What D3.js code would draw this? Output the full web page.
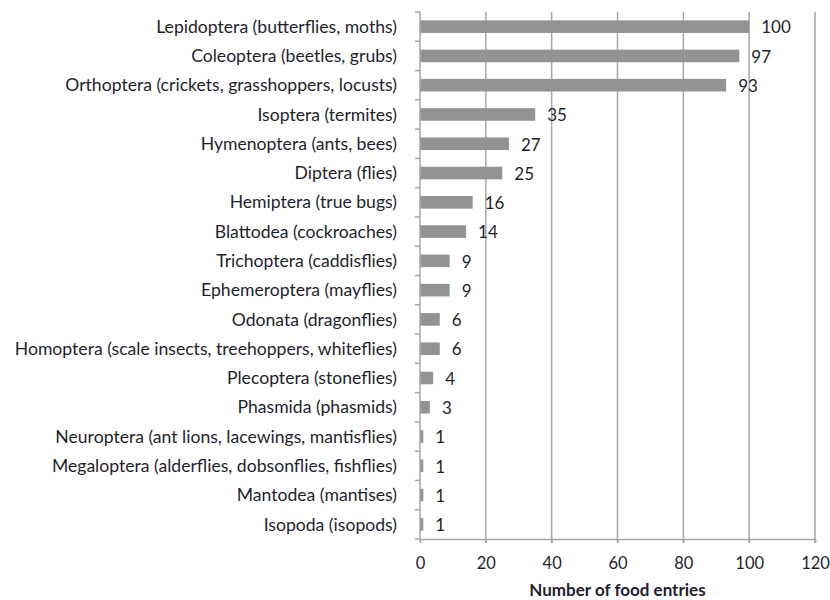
<!DOCTYPE html>
<html>
<head>
  <meta charset="utf-8">
  <title>insect food entries</title>
  <script src="https://cdn.jsdelivr.net/npm/d3@7"></script>
  <style>
    body { margin: 0; background: #fff; }
    text { font-family: Lato, "Open Sans", sans-serif; fill: #1f1f2e; }
  </style>
</head>
<body>
  <div id="chart"></div>
  <script>
    var orders = [
      "Lepidoptera (butterflies, moths)",
      "Coleoptera (beetles, grubs)",
      "Orthoptera (crickets, grasshoppers, locusts)",
      "Isoptera (termites)",
      "Hymenoptera (ants, bees)",
      "Diptera (flies)",
      "Hemiptera (true bugs)",
      "Blattodea (cockroaches)",
      "Trichoptera (caddisflies)",
      "Ephemeroptera (mayflies)",
      "Odonata (dragonflies)",
      "Homoptera (scale insects, treehoppers, whiteflies)",
      "Plecoptera (stoneflies)",
      "Phasmida (phasmids)",
      "Neuroptera (ant lions, lacewings, mantisflies)",
      "Megaloptera (alderflies, dobsonflies, fishflies)",
      "Mantodea (mantises)",
      "Isopoda (isopods)"
    ];
    var entries = [100, 97, 93, 35, 27, 25, 16, 14, 9, 9, 6, 6, 4, 3, 1, 1, 1, 1];
    var xTicks = [0, 20, 40, 60, 80, 100, 120];

    var w = 830, h = 600;
    var pLeft = 420, pRight = 815, pTop = 12, pBottom = 539;

    var svg = d3.select("#chart").append("svg")
      .attr("width", w)
      .attr("height", h);

    var x = d3.scaleLinear().domain([0, 120]).range([pLeft, pRight]);
    var y = d3.scaleBand().domain(orders).range([pTop, pBottom]).paddingInner(0.57).paddingOuter(0.285);

    // vertical gridlines
    svg.selectAll("line.grid")
      .data(xTicks.slice(1))
      .enter().append("line")
      .attr("class", "grid")
      .attr("x1", function(d) { return x(d); })
      .attr("x2", function(d) { return x(d); })
      .attr("y1", pTop)
      .attr("y2", pBottom + 4)
      .attr("stroke", "#a6a6a6")
      .attr("stroke-width", 1.5);

    // bars
    svg.selectAll("rect")
      .data(entries)
      .enter().append("rect")
      .attr("x", x(0))
      .attr("y", function(d, i) { return y(orders[i]); })
      .attr("width", function(d) { return x(d) - x(0); })
      .attr("height", y.bandwidth())
      .attr("fill", "#939393");

    // bottom axis
    var xAxis = d3.axisBottom(x).tickValues(xTicks).tickSize(4).tickPadding(14);
    var gx = svg.append("g").attr("transform", "translate(0," + pBottom + ")").call(xAxis);
    gx.select(".domain").attr("stroke", "#a6a6a6").attr("stroke-width", 1.5);
    gx.selectAll(".tick line").attr("stroke", "#a6a6a6").attr("stroke-width", 1.5);
    gx.selectAll(".tick text").style("font-size", "16.5px").attr("fill", "#1f1f2e");

    // left axis with category boundary ticks
    var bounds = d3.range(orders.length + 1).map(function(i) {
      return pTop + i * (pBottom - pTop) / orders.length;
    });
    svg.append("line")
      .attr("x1", pLeft).attr("x2", pLeft)
      .attr("y1", pTop).attr("y2", pBottom)
      .attr("stroke", "#a6a6a6").attr("stroke-width", 1.5);
    svg.selectAll("line.cat")
      .data(bounds)
      .enter().append("line")
      .attr("class", "cat")
      .attr("x1", pLeft - 5).attr("x2", pLeft)
      .attr("y1", function(d) { return d; })
      .attr("y2", function(d) { return d; })
      .attr("stroke", "#a6a6a6").attr("stroke-width", 1.5);

    // category labels
    svg.selectAll("text.cat")
      .data(orders)
      .enter().append("text")
      .attr("class", "cat")
      .attr("x", pLeft - 23)
      .attr("y", function(d) { return y(d) + y.bandwidth() / 2; })
      .attr("dy", "0.35em")
      .attr("text-anchor", "end")
      .style("font-size", "17.6px")
      .text(function(d) { return d; });

    // value labels
    svg.selectAll("text.val")
      .data(entries)
      .enter().append("text")
      .attr("class", "val")
      .attr("x", function(d) { return x(d) + 12; })
      .attr("y", function(d, i) { return y(orders[i]) + y.bandwidth() / 2; })
      .attr("dy", "0.4em")
      .style("font-size", "17px")
      .text(function(d) { return d; });

    svg.append("text")
      .attr("x", (pLeft + pRight) / 2)
      .attr("y", 596)
      .attr("text-anchor", "middle")
      .style("font-size", "17px")
      .style("font-weight", "bold")
      .text("Number of food entries");
  </script>
</body>
</html>
